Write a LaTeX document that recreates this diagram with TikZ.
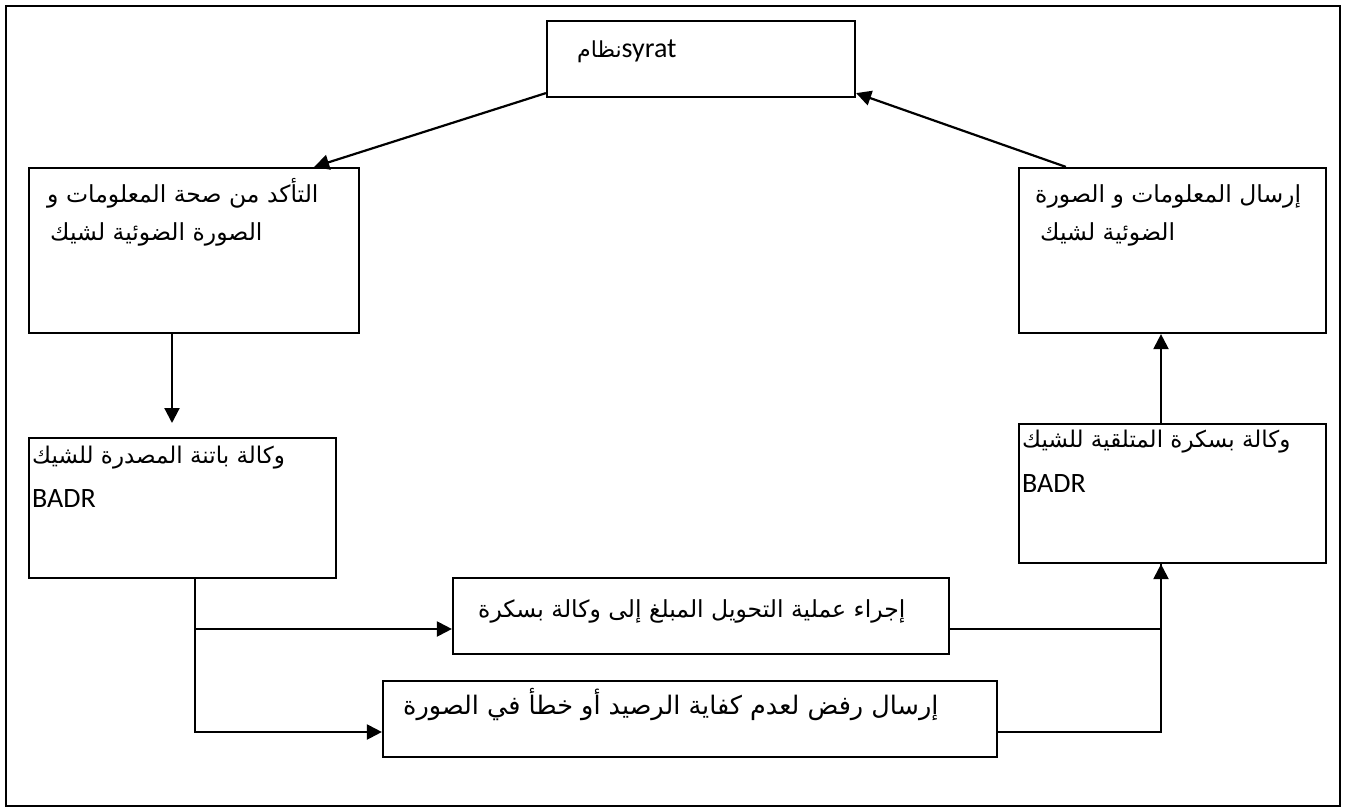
\documentclass[tikz,border=0pt]{standalone}
\usepackage{fontspec}
\setmainfont{Liberation Sans}
\newfontfamily\arabicfont[Script=Arabic]{DejaVu Sans}
\newfontfamily\latinfont{Carlito}
\TeXXeTstate=1
\usetikzlibrary{arrows.meta}
\begin{document}
\begin{tikzpicture}[x=1pt,y=-1pt,
  box/.style={draw,line width=2.2pt,inner sep=0pt},
  artext/.style={anchor=base west,inner sep=0pt,font=\arabicfont\fontsize{23.5}{28}\selectfont},
  lattext/.style={anchor=base west,inner sep=0pt,font=\latinfont\fontsize{28}{32}\selectfont},
  conn/.style={line width=2.2pt},
  thin conn/.style={line width=1.5pt},
  tip/.style={-{Triangle[length=15pt,width=15pt]}}]
\useasboundingbox (0,0) rectangle (1350,808);
\node[draw,line width=1.2pt,minimum width=1334pt,minimum height=800pt,inner sep=0pt] (frame) at (673,406) {};
% boxes
\node[box,minimum width=308pt,minimum height=76pt] (syrat) at (701,59) {};
\node[box,minimum width=330pt,minimum height=165pt] (LT) at (194,250.5) {};
\node[box,minimum width=307pt,minimum height=165pt] (RT) at (1172.5,250.5) {};
\node[box,minimum width=307pt,minimum height=140pt] (LB) at (182.5,508) {};
\node[box,minimum width=307pt,minimum height=139pt] (RB) at (1172.5,493.5) {};
\node[box,minimum width=496pt,minimum height=76pt] (M1) at (701,616) {};
\node[box,minimum width=614pt,minimum height=76pt] (M2) at (690,719) {};
% texts
\node[inner sep=0pt,anchor=base west] (tsyrat) at (577,58) {{\arabicfont\fontsize{22}{26}\selectfont\beginR نظام\endR}{\latinfont\fontsize{28}{32}\selectfont syrat}};
\node[artext] (tLT1) at (47,202) {\beginR التأكد من صحة المعلومات و\endR};
\node[artext] (tLT2) at (50,240) {\beginR الصورة الضوئية لشيك\endR};
\node[artext] (tRT1) at (1035,202) {\beginR إرسال المعلومات و الصورة\endR};
\node[artext] (tRT2) at (1040,240) {\beginR الضوئية لشيك\endR};
\node[artext,font=\arabicfont\fontsize{23}{28}\selectfont] (tLB1) at (32,463) {\beginR وكالة باتنة المصدرة للشيك\endR};
\node[lattext] (tLB2) at (32,507) {BADR};
\node[artext,font=\arabicfont\fontsize{23}{28}\selectfont] (tRB1) at (1022,447) {\beginR وكالة بسكرة المتلقية للشيك\endR};
\node[lattext] (tRB2) at (1022,492) {BADR};
\node[artext] (tM1) at (478,617) {\beginR إجراء عملية التحويل المبلغ إلى وكالة بسكرة\endR};
\node[artext,font=\arabicfont\fontsize{25.5}{30}\selectfont] (tM2) at (403,714) {\beginR إرسال رفض لعدم كفاية الرصيد أو خطأ في الصورة\endR};
% connectors
\draw[conn,tip] ([yshift=5pt]syrat.south west) -- ([xshift=-46pt]LT.north east);
\draw[conn,tip] ([xshift=48pt]RT.north west) -- ([yshift=5pt]syrat.south east);
\coordinate (LBin) at (172,423);
\draw[conn,tip] ([xshift=-22pt]LT.south) -- (LBin);
\draw[conn,tip] ([xshift=-11.5pt]RB.north) -- ([xshift=-11.5pt]RT.south);
\draw[conn,tip] ([xshift=12.5pt]LB.south) |- ([yshift=-13pt]M1.west);
\draw[conn,tip] ([xshift=12.5pt]LB.south) |- ([yshift=-13pt]M2.west);
\draw[thin conn] ([yshift=-13pt]M1.east) -| ([xshift=-11.5pt]RB.south);
\draw[conn,tip] ([yshift=-13pt]M2.east) -| ([xshift=-11.5pt]RB.south);
\end{tikzpicture}
\end{document}
